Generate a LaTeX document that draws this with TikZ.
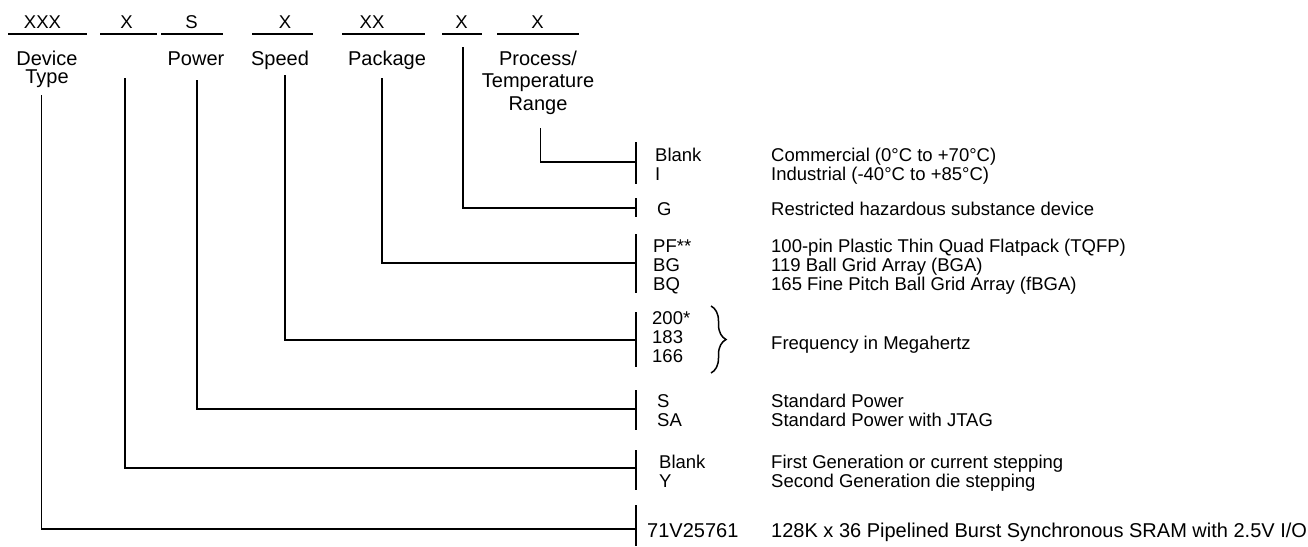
\documentclass[tikz,border=0pt]{standalone}
\usepackage{fontspec}
\setmainfont{Liberation Sans}
\usetikzlibrary{decorations.pathreplacing}
\tikzset{
  txt/.style={inner sep=0pt, font=\fontsize{18.5}{19}\selectfont},
  field/.style={txt, anchor=base},
  label/.style={field, font=\fontsize{20}{18}\selectfont},
  code/.style={txt, anchor=base west, align=left},
  ln/.style={line width=1.5pt},
}
\begin{document}
\begin{tikzpicture}[x=1pt,y=-1pt]
\useasboundingbox (0,0) rectangle (1308,546);

% part number fields
\node[field] (fdev) at (42.5,28) {XXX};
\node[field] (fdie) at (126.5,28) {X};
\node[field] (fpwr) at (191.5,28) {S};
\node[field] (fspd) at (285,28) {X};
\node[field] (fpkg) at (372,28) {XX};
\node[field] (fg) at (461.5,28) {X};
\node[field] (fproc) at (537.5,28) {X};
\draw[ln] (8,34) -- (87,34);
\draw[ln] (100,34) -- (157,34);
\draw[ln] (161,34) -- (223,34);
\draw[ln] (252,34) -- (313,34);
\draw[ln] (342,34) -- (425,34);
\draw[ln] (442,34) -- (482,34);
\draw[ln] (497,34) -- (579,34);

% multi-line nodes sit on the baseline of their last line
\node[label, align=center] (ldev) at (47,83) {Device\\Type};
\node[label] (lpwr) at (196,65) {Power};
\node[label] (lspd) at (280,65) {Speed};
\node[label] (lpkg) at (387,65) {Package};
\node[label, align=center, font=\fontsize{20}{22.5}\selectfont] (lproc) at (538,110) {Process/\\Temperature\\Range};

% codes
\node[code] (cproc) at (655,180) {Blank\\I};
\node[code] (cg) at (657,215) {G};
\node[code] (cpkg) at (653,290) {PF**\\BG\\BQ};
\node[code] (cspd) at (652,362) {200*\\183\\166};
\node[code] (cpwr) at (657,426) {S\\SA};
\node[code] (cdie) at (659,487) {Blank\\Y};
\node[code, font=\fontsize{20}{19}\selectfont] (cdev) at (647,537) {71V25761};

% descriptions
\node[code] (dproc) at (771,180) {Commercial (0°C to +70°C)\\Industrial (-40°C to +85°C)};
\node[code] (dg) at (771,215) {Restricted hazardous substance device};
\node[code] (dpkg) at (771,290) {100-pin Plastic Thin Quad Flatpack (TQFP)\\119 Ball Grid Array (BGA)\\165 Fine Pitch Ball Grid Array (fBGA)};
\node[code] (dspd) at (771,349) {Frequency in Megahertz};
\node[code] (dpwr) at (771,426) {Standard Power\\Standard Power with JTAG};
\node[code] (ddie) at (771,487) {First Generation or current stepping\\Second Generation die stepping};
\node[code, font=\fontsize{20}{19}\selectfont] (ddev) at (771,537) {128K x 36 Pipelined Burst Synchronous SRAM with 2.5V I/O};

\draw[ln, decorate, decoration={brace, amplitude=15pt, aspect=0.5}] (711,306) -- (711,373);

% bars
\draw[ln] (636,142) -- (636,184);
\draw[ln] (636,198) -- (636,217);
\draw[ln] (636,234) -- (636,293);
\draw[ln] (636,312) -- (636,367);
\draw[ln] (636,390) -- (636,430);
\draw[ln] (636,450) -- (636,490);
\draw[ln] (636,505) -- (636,546);

% connectors
\coordinate (tproc) at (540.5,128); \coordinate (bproc) at (636,162);
\coordinate (tg) at (463,47); \coordinate (bg) at (636,208);
\coordinate (tpkg) at (382,78); \coordinate (bpkg) at (636,263);
\coordinate (tspd) at (285,75); \coordinate (bspd) at (636,340);
\coordinate (tpwr) at (197,80); \coordinate (bpwr) at (636,409);
\coordinate (tdie) at (125,78); \coordinate (bdie) at (636,468);
\coordinate (tdev) at (41.5,95); \coordinate (bdev) at (636,529);
\draw[ln] (tproc) |- (bproc);
\draw[ln] (tg) |- (bg);
\draw[ln] (tpkg) |- (bpkg);
\draw[ln] (tspd) |- (bspd);
\draw[ln] (tpwr) |- (bpwr);
\draw[ln] (tdie) |- (bdie);
\draw[ln] (tdev) |- (bdev);
\end{tikzpicture}
\end{document}
